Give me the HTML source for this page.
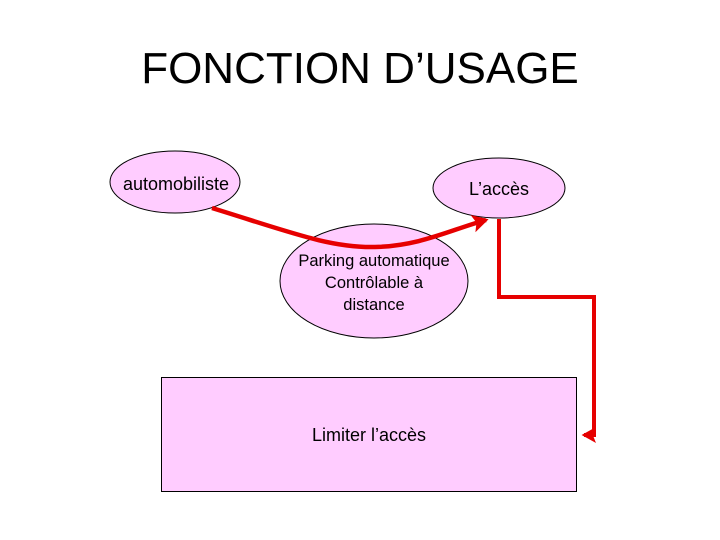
<!DOCTYPE html>
<html><head><meta charset="utf-8"><style>
html,body{margin:0;padding:0;background:#fff;}
svg{display:block}
text{font-family:"Liberation Sans",Arial,sans-serif;fill:#000}
</style></head><body>
<svg width="720" height="540" viewBox="0 0 720 540" xmlns="http://www.w3.org/2000/svg">
<defs>
<marker id="a" markerWidth="5" markerHeight="5" refX="3" refY="2" orient="auto" markerUnits="strokeWidth">
<path d="M0,0 L3.6,2 L0,4 L0.8,2 Z" fill="#e60000"/></marker>
</defs>
<text x="360" y="83" font-size="44" text-anchor="middle">FONCTION D’USAGE</text>
<ellipse cx="175" cy="182" rx="65" ry="31" fill="#ffccff" stroke="#000" stroke-width="1"/>
<text x="176" y="190" font-size="18" text-anchor="middle">automobiliste</text>
<ellipse cx="499" cy="188" rx="66" ry="30" fill="#ffccff" stroke="#000" stroke-width="1"/>
<text x="499" y="195" font-size="18" text-anchor="middle">L’accès</text>
<ellipse cx="374" cy="281" rx="94" ry="57" fill="#ffccff" stroke="#000" stroke-width="1"/>
<text x="374" y="266" font-size="16.5" text-anchor="middle">Parking automatique</text>
<text x="374" y="288" font-size="16.5" text-anchor="middle">Contrôlable à</text>
<text x="374" y="310" font-size="16.5" text-anchor="middle">distance</text>
<rect x="161.5" y="377.5" width="415" height="114" fill="#ffccff" stroke="#000" stroke-width="1"/>
<text x="369" y="441" font-size="18" text-anchor="middle">Limiter l’accès</text>
<path d="M212,208 C290,232 330,248 375,247 C420,246 450,230 486,220" fill="none" stroke="#e60000" stroke-width="4.5" marker-end="url(#a)"/>
<path d="M499,219 L499,297 L594,297 L594,435 L584,435" fill="none" stroke="#e60000" stroke-width="4" marker-end="url(#a)"/>
</svg>
</body></html>
